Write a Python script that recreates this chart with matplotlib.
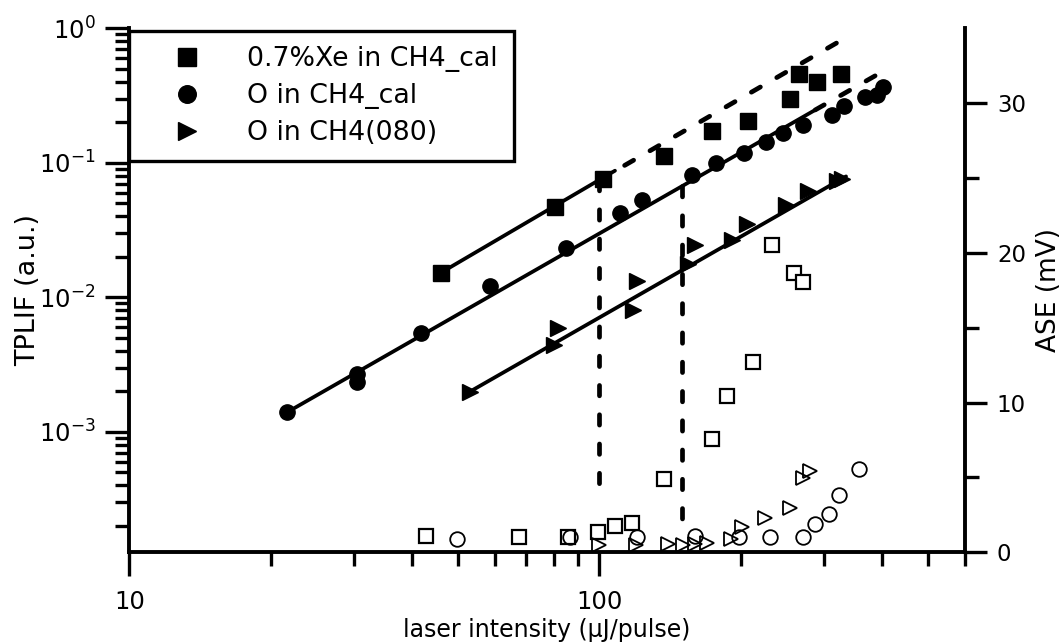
import numpy as np
import matplotlib.pyplot as plt
from matplotlib.ticker import LogLocator, NullFormatter, FixedLocator

plt.rcParams['font.family'] = ['DejaVu Sans']
plt.rcParams['mathtext.default'] = 'regular'

# TPLIF signal (left axis), laser intensity in uJ/pulse
xe_x = [46.0, 80.5, 102.0, 137.5, 174.0, 206.9, 255.0, 266.5, 290.9, 326.3]
xe_y = [0.0152, 0.0472, 0.0754, 0.112, 0.172, 0.206, 0.297, 0.455, 0.401, 0.457]

o_x = [21.7, 30.5, 30.5, 41.7, 58.5, 84.8, 110.7, 123.1, 157.3, 177.1,
       203.5, 226.3, 245.6, 271.6, 312.3, 331.7, 367.5, 389.2, 402.0]
o_y = [1.40e-3, 2.69e-3, 2.36e-3, 5.40e-3, 0.0122, 0.0231, 0.0426, 0.0529, 0.0811, 0.100,
       0.119, 0.143, 0.167, 0.191, 0.227, 0.265, 0.310, 0.319, 0.368]

o80_x = [53.1, 80.1, 81.7, 118.1, 120.5, 154.1, 159.8, 191.3, 205.9, 249.6, 278.5, 320.0, 328.0]
o80_y = [1.99e-3, 4.42e-3, 5.88e-3, 8.04e-3, 0.0131, 0.0177, 0.0245, 0.0267, 0.0351,
         0.0486, 0.0617, 0.0732, 0.0760]

# ASE signal (right axis, mV)
ase_xe_x = [42.8, 67.6, 85.9, 99.5, 108.0, 117.2, 137.3, 173.4, 186.6, 212.7, 233.4, 259.6, 270.9]
ase_xe = [1.09, 1.04, 1.04, 1.37, 1.75, 1.93, 4.89, 7.54, 10.43, 12.72, 20.55, 18.68, 18.05]

ase_o_x = [49.7, 86.5, 120.1, 159.8, 198.6, 230.7, 270.9, 287.7, 308.6, 324.0, 356.9]
ase_o = [0.87, 1.02, 1.00, 1.09, 1.04, 1.04, 1.00, 1.89, 2.55, 3.82, 5.54]

ase_o80_x = [100.0, 119.7, 140.2, 150.4, 159.8, 169.2, 190.4, 200.9, 225.3, 254.6, 271.6, 280.7]
ase_o80 = [0.49, 0.49, 0.55, 0.49, 0.55, 0.60, 0.87, 1.71, 2.27, 2.94, 4.94, 5.44]

# slope-2 fit lines (solid) and their extrapolation (dashed)
xe_fit_x = [46.0, 108.0]
xe_fit_y = [0.0152, 0.0873]
xe_ext_x = [100.0, 330.0]
xe_ext_y = [0.0744, 0.828]
o_fit_x = [21.7, 288.0]
o_fit_y = [0.0014, 0.247]
o_ext_x = [288.0, 400.0]
o_ext_y = [0.247, 0.475]
o80_fit_x = [53.1, 335.0]
o80_fit_y = [0.00199, 0.0792]

# vertical guides: top on the fit line, bottom in ASE (mV)
guide_x = [100.0, 150.0]
guide_top = [0.0744, 0.0669]
guide_bottom_ase = [3.9, 1.9]

fig = plt.figure(figsize=(10.63, 6.43), dpi=100)
ax = fig.add_axes([0.1216, 0.1411, 0.7862, 0.8149])
ax2 = ax.twinx()

ax.set_xscale('log')
ax.set_yscale('log')
ax.set_xlim(10, 600)
ax.set_ylim(1.27e-4, 1)
ax2.set_ylim(0, 35)

lw_fit = 2.7
lw_dash = 3.4
dash = (0, (2.2, 4.0))
ax.plot(xe_fit_x, xe_fit_y, color='k', lw=lw_fit, solid_capstyle='round')
ax.plot(xe_ext_x, xe_ext_y, color='k', lw=lw_dash, ls=dash, dash_capstyle='round')
ax.plot(o_fit_x, o_fit_y, color='k', lw=lw_fit, solid_capstyle='round')
ax.plot(o_ext_x, o_ext_y, color='k', lw=lw_dash, ls=dash, dash_capstyle='round')
ax.plot(o80_fit_x, o80_fit_y, color='k', lw=lw_fit, solid_capstyle='round')

# guides drawn on the log axis, bottom end converted from the ASE scale
for gx, gt, gb in zip(guide_x, guide_top, guide_bottom_ase):
    disp = ax2.transData.transform((gx, gb))
    yb = ax.transData.inverted().transform(disp)[1]
    ax.plot([gx, gx], [gt, yb], color='k', lw=lw_dash, ls=dash, dash_capstyle='round')

ms = 11
ax.plot(xe_x, xe_y, ls='none', marker='s', ms=ms, color='k', label='0.7%Xe in CH4_cal', zorder=5)
ax.plot(o_x, o_y, ls='none', marker='o', ms=ms, color='k', label='O in CH4_cal', zorder=5)
ax.plot(o80_x, o80_y, ls='none', marker='>', ms=ms, color='k', label='O in CH4(080)', zorder=5)

ax2.plot(ase_xe_x, ase_xe, ls='none', marker='s', ms=10.5, mfc='white', mec='k', mew=1.6)
ax2.plot(ase_o_x, ase_o, ls='none', marker='o', ms=10.5, mfc='none', mec='k', mew=1.3)
ax2.plot(ase_o80_x, ase_o80, ls='none', marker='>', ms=10.5, mfc='none', mec='k', mew=1.3)

# axes frame: left, bottom and the ASE axis on the right
for s in ['top', 'right']:
    ax.spines[s].set_visible(False)
for s in ['top', 'left', 'bottom']:
    ax2.spines[s].set_visible(False)
ax.spines['left'].set_linewidth(2.8)
ax.spines['bottom'].set_linewidth(2.8)
ax2.spines['right'].set_linewidth(2.8)

ax.set_xticks([10, 100])
ax.set_xticklabels(['10', '100'])
ax.xaxis.set_minor_locator(LogLocator(base=10, subs=np.arange(2, 10)))
ax.xaxis.set_minor_formatter(NullFormatter())
ax.yaxis.set_major_locator(LogLocator(base=10))
ax.yaxis.set_minor_locator(LogLocator(base=10, subs=np.arange(2, 10)))
ax.yaxis.set_minor_formatter(NullFormatter())

ax.tick_params(axis='both', which='major', direction='out', length=17, width=2.4, labelsize=17.5)
ax.tick_params(axis='both', which='minor', direction='out', length=10, width=2.4)
ax.tick_params(axis='x', which='major', pad=10)
ax.tick_params(axis='y', which='major', pad=7)

ax2.set_yticks([0, 10, 20, 30])
ax2.yaxis.set_minor_locator(FixedLocator([5, 15, 25]))
ax2.tick_params(axis='y', which='major', direction='out', length=16, width=2.4, labelsize=16.5, pad=7)
ax2.tick_params(axis='y', which='minor', direction='out', length=10, width=2.4)

ax.set_xlabel('laser intensity (μJ/pulse)', fontsize=17)
ax.set_ylabel('TPLIF (a.u.)', fontsize=19.5)
ax2.set_ylabel('ASE (mV)', fontsize=19)
ax.xaxis.set_label_coords(0.5, -0.125)
ax.yaxis.set_label_coords(-0.106, 0.5)
ax2.yaxis.set_label_coords(1.085, 0.5)

leg = ax.legend(loc='upper left', bbox_to_anchor=(0, 0.995), borderaxespad=0,
                fontsize=19.3, frameon=True, fancybox=False, framealpha=1,
                handlelength=3.12, handletextpad=0.71, borderpad=0.58,
                labelspacing=0.40, markerscale=1.15)
leg.get_frame().set_edgecolor('k')
leg.get_frame().set_linewidth(2.4)
leg.set_zorder(10)

fig.savefig('out.png', dpi=100)
